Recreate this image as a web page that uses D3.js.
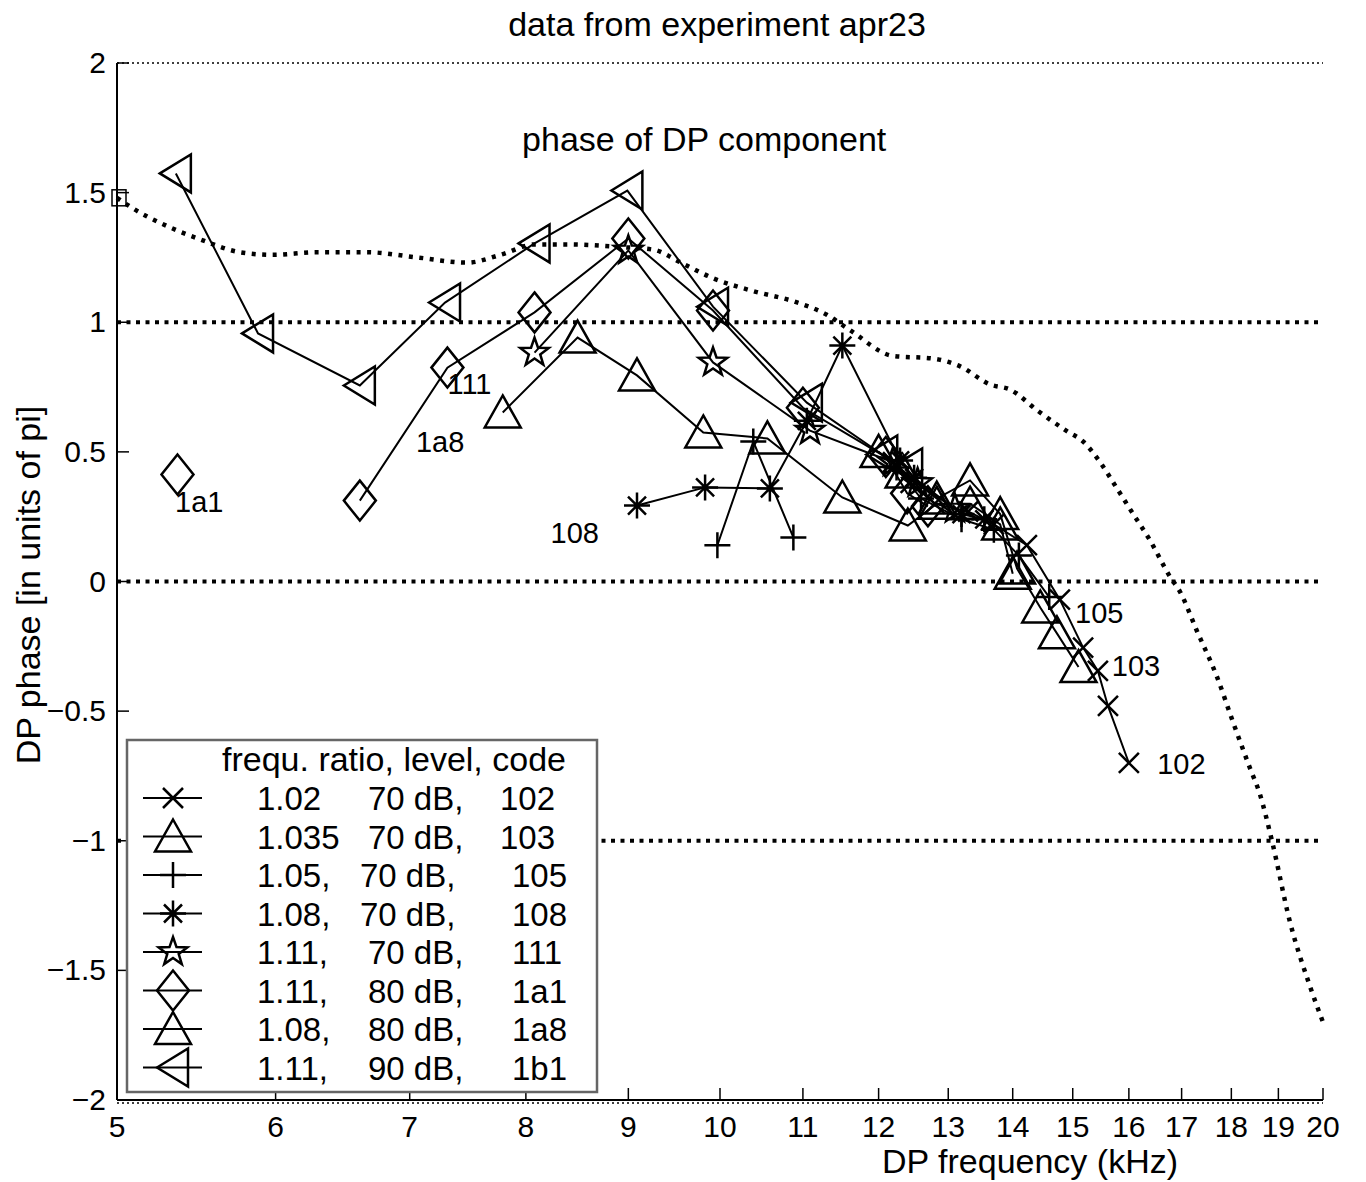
<!DOCTYPE html>
<html>
<head>
<meta charset="utf-8">
<script src="https://cdn.jsdelivr.net/npm/d3@7"></script>
<style>
    body { margin: 0; background: #fff; }
    svg { display: block; font-family: "Liberation Sans", Arial, sans-serif; }
</style>
</head>
<body>
<svg id="chart" width="1366" height="1182"></svg>
<script>
// axis ticks
const xTicks = [5, 6, 7, 8, 9, 10, 11, 12, 13, 14, 15, 16, 17, 18, 19, 20];
const yTicks = [2, 1.5, 1, 0.5, 0, -0.5, -1, -1.5, -2];
const gridLevels = [1, 0, -1];

// reference curve (dotted)
const refFreq = [5.0, 5.09, 5.30, 5.50, 5.76, 5.98, 6.29, 6.67, 7.06, 7.48, 7.77, 8.08, 8.40, 8.92, 9.26, 9.56,
    9.92, 10.39, 10.89, 11.30, 11.61, 12.20, 12.77, 13.18, 13.64, 13.96, 14.40, 14.90, 15.18, 15.48, 15.78,
    16.08, 16.39, 16.77, 16.97, 17.30, 17.71, 18.03, 18.39, 18.60, 18.86, 19.25, 19.70, 20.0];
const refPhase = [1.48, 1.44, 1.37, 1.32, 1.27, 1.26, 1.27, 1.27, 1.25, 1.23, 1.26, 1.30, 1.30, 1.29, 1.28, 1.23,
    1.17, 1.12, 1.08, 1.03, 0.97, 0.87, 0.86, 0.83, 0.76, 0.74, 0.66, 0.58, 0.54, 0.46, 0.36,
    0.26, 0.16, 0.02, -0.04, -0.19, -0.37, -0.54, -0.72, -0.82, -1.0, -1.31, -1.56, -1.70];

// measured series: DP frequency (kHz) and phase (units of pi); null = gap
const f102 = [12.2, 12.45, 12.8, 13.3, 13.7, 14.23, 14.78, 15.18, 15.44, 15.62, 16.0];
const p102 = [0.46, 0.38, 0.30, 0.27, 0.22, 0.14, -0.07, -0.255, -0.345, -0.48, -0.70];

const f103 = [12.0, 12.35, 12.83, 13.33, 13.8, 14.07, 14.45, 14.73, 15.1];
const p103 = [0.50, 0.42, 0.32, 0.39, 0.26, 0.05, -0.10, -0.20, -0.33];

const f105 = [9.97, 10.39, 10.88, 11.5, 12.25, 12.6, 13.2, 13.7, 14.1, 14.6];
const p105 = [0.14, 0.54, 0.17, null, 0.44, 0.32, 0.24, 0.20, 0.10, -0.06];

const f108 = [9.09, 9.83, 10.59, 11.05, 11.51, 12.3, 12.5, 13.2, 13.55];
const p108 = [0.293, 0.363, 0.359, 0.62, 0.91, 0.467, 0.40, 0.26, 0.24];

const f111 = [8.08, 9.0, 9.92, 11.09, 12.2, 12.55, 13.1];
const p111 = [0.883, 1.277, 0.845, 0.582, 0.46, 0.38, 0.28];

const f1a1 = [5.36, 6.0, 6.61, 7.31, 8.08, 9.0, 9.92, 11.0, 12.1, 12.4, 12.7];
const p1a1 = [0.413, null, 0.312, 0.825, 1.038, 1.323, 1.045, 0.67, 0.48, 0.34, 0.29];

const f1a8 = [7.79, 8.49, 9.09, 9.81, 10.56, 11.51, 12.41, 12.83, 13.33, 13.8, 14.0];
const p1a8 = [0.652, 0.941, 0.795, 0.575, 0.552, 0.324, 0.216, 0.30, 0.30, 0.22, 0.03];

const f1b1 = [5.35, 5.88, 6.61, 7.29, 8.08, 8.99, 9.92, 11.05, 12.05, 12.4];
const p1b1 = [1.574, 0.957, 0.756, 1.076, 1.304, 1.508, 1.06, 0.69, 0.49, 0.44];

// legend rows
const legendCodes = ['102', '103', '105', '108', '111', '1a1', '1a8', '1b1'];
const legendRatio = ['1.02', '1.035', '1.05,', '1.08,', '1.11,', '1.11,', '1.08,', '1.11,'];
const legendLevel = ['70 dB,', '70 dB,', '70 dB,', '70 dB,', '70 dB,', '80 dB,', '80 dB,', '90 dB,'];

// text annotations placed in data coordinates
const noteText = ['1a1', '111', '1a8', '108', '105', '103', '102'];
const noteFreq = [5.345, 7.31, 7.05, 8.23, 15.04, 15.69, 16.53];
const notePhase = [0.27, 0.725, 0.498, 0.150, -0.162, -0.366, -0.741];

const series = [
    { code: '102', f: f102, p: p102, marker: 'x' },
    { code: '103', f: f103, p: p103, marker: 'tri' },
    { code: '105', f: f105, p: p105, marker: 'plus' },
    { code: '108', f: f108, p: p108, marker: 'asterisk' },
    { code: '111', f: f111, p: p111, marker: 'star' },
    { code: '1a1', f: f1a1, p: p1a1, marker: 'diamond' },
    { code: '1a8', f: f1a8, p: p1a8, marker: 'tri' },
    { code: '1b1', f: f1b1, p: p1b1, marker: 'ltri' }
];

const plotLeft = 117, plotRight = 1323, plotTop = 63, plotBottom = 1100;

const svg = d3.select('#chart');
const x = d3.scaleLog().domain([5, 20]).range([plotLeft, plotRight]);
const y = d3.scaleLinear().domain([-2, 2]).range([plotBottom, plotTop]);

function starPath(ro, ri) {
    const pts = [];
    for (let i = 0; i < 10; i++) {
        const r = i % 2 === 0 ? ro : ri;
        const a = -Math.PI / 2 + i * Math.PI / 5;
        pts.push([r * Math.cos(a), r * Math.sin(a)]);
    }
    return 'M' + pts.map(p => p[0].toFixed(1) + ',' + p[1].toFixed(1)).join('L') + 'Z';
}

const markerPaths = {
    x: 'M-10,-10L10,10M-10,10L10,-10',
    tri: 'M0,-17L18,15L-18,15Z',
    plus: 'M-13,0L13,0M0,-13L0,13',
    asterisk: 'M-13,0L13,0M0,-13L0,13M-9,-9L9,9M-9,9L9,-9',
    star: starPath(15, 6),
    diamond: 'M0,-20L16,0L0,20L-16,0Z',
    ltri: 'M-16,0L15,-19L15,19Z'
};

// axes
svg.append('line')
    .attr('x1', plotLeft).attr('x2', plotLeft).attr('y1', plotTop).attr('y2', plotBottom)
    .attr('stroke', '#000').attr('stroke-width', 2);
svg.append('line')
    .attr('x1', plotLeft).attr('x2', plotRight).attr('y1', plotBottom).attr('y2', plotBottom)
    .attr('stroke', '#000').attr('stroke-width', 2);

// thin dotted frame lines at +2 / -2
[2, -2].forEach(v => {
    const yy = y(v) + (v < 0 ? 3 : 0);
    svg.append('line')
        .attr('x1', plotLeft).attr('x2', plotRight).attr('y1', yy).attr('y2', yy)
        .attr('stroke', '#000').attr('stroke-width', 1.5).attr('stroke-dasharray', '2 3');
});

// heavy dotted levels
svg.selectAll('.level')
    .data(gridLevels)
    .enter()
    .append('line')
    .attr('class', 'level')
    .attr('x1', plotLeft).attr('x2', plotRight)
    .attr('y1', d => y(d)).attr('y2', d => y(d))
    .attr('stroke', '#000').attr('stroke-width', 4).attr('stroke-dasharray', '4 5.5');

// ticks
svg.selectAll('.ytick')
    .data(yTicks)
    .enter()
    .append('line')
    .attr('x1', plotLeft).attr('x2', plotLeft + 12)
    .attr('y1', d => y(d)).attr('y2', d => y(d))
    .attr('stroke', '#000').attr('stroke-width', 1.5);
svg.selectAll('.ylab')
    .data(yTicks)
    .enter()
    .append('text')
    .attr('x', 106)
    .attr('y', d => y(d) + 10)
    .attr('text-anchor', 'end')
    .attr('font-size', 30)
    .text(d => d < 0 ? '\u2212' + Math.abs(d) : d);

svg.selectAll('.xtick')
    .data(xTicks)
    .enter()
    .append('line')
    .attr('x1', d => x(d)).attr('x2', d => x(d))
    .attr('y1', plotBottom).attr('y2', plotBottom - 12)
    .attr('stroke', '#000').attr('stroke-width', 1.5);
svg.selectAll('.xlab')
    .data(xTicks)
    .enter()
    .append('text')
    .attr('x', d => x(d))
    .attr('y', 1137)
    .attr('text-anchor', 'middle')
    .attr('font-size', 30)
    .text(d => d);

// titles
svg.append('text').attr('x', 717).attr('y', 36).attr('text-anchor', 'middle')
    .attr('font-size', 34).text('data from experiment apr23');
svg.append('text').attr('x', 1030).attr('y', 1173).attr('text-anchor', 'middle')
    .attr('font-size', 34).text('DP frequency (kHz)');
svg.append('text').attr('transform', 'translate(40,585) rotate(-90)').attr('text-anchor', 'middle')
    .attr('font-size', 34).text('DP phase [in units of pi]');
svg.append('text').attr('x', x(9.82)).attr('y', y(1.659)).attr('text-anchor', 'middle')
    .attr('font-size', 34).text('phase of DP component');

// reference curve
const refPts = refFreq.map((f, i) => [f, refPhase[i]]);
svg.append('path')
    .attr('d', d3.line().x(d => x(d[0])).y(d => y(d[1])).curve(d3.curveMonotoneX)(refPts))
    .attr('fill', 'none').attr('stroke', '#000')
    .attr('stroke-width', 4.5).attr('stroke-dasharray', '4 6.5');
svg.append('rect')
    .attr('x', x(refFreq[0]) - 5).attr('y', y(refPhase[0]) - 8)
    .attr('width', 14).attr('height', 16)
    .attr('fill', 'none').attr('stroke', '#000').attr('stroke-width', 1.5);

// series lines and markers
const line = d3.line()
    .defined(d => d[1] !== null)
    .x(d => x(d[0]))
    .y(d => y(d[1]));

series.forEach(s => {
    const pts = s.f.map((f, i) => [f, s.p[i]]);
    svg.append('path')
        .attr('d', line(pts))
        .attr('fill', 'none').attr('stroke', '#000').attr('stroke-width', 2);
    svg.append('g')
        .selectAll('path')
        .data(pts.filter(d => d[1] !== null))
        .enter()
        .append('path')
        .attr('d', markerPaths[s.marker])
        .attr('transform', d => `translate(${x(d[0])},${y(d[1])})`)
        .attr('fill', 'none').attr('stroke', '#000').attr('stroke-width', 2.5);
});

// annotations
svg.selectAll('.note')
    .data(noteText)
    .enter()
    .append('text')
    .attr('x', (d, i) => x(noteFreq[i]))
    .attr('y', (d, i) => y(notePhase[i]))
    .attr('font-size', 29)
    .text(d => d);

// legend
const lg = svg.append('g');
lg.append('rect')
    .attr('x', 127).attr('y', 740).attr('width', 470).attr('height', 352)
    .attr('fill', '#fff').attr('stroke', '#666').attr('stroke-width', 2.5);
lg.append('text').attr('x', 222).attr('y', 771).attr('font-size', 34)
    .text('frequ. ratio, level, code');

legendCodes.forEach((code, i) => {
    const cy = 798 + i * 38.5;
    const s = series.find(d => d.code === code);
    lg.append('line').attr('x1', 143).attr('x2', 202).attr('y1', cy).attr('y2', cy)
        .attr('stroke', '#000').attr('stroke-width', 2);
    lg.append('path').attr('d', markerPaths[s.marker])
        .attr('transform', `translate(173,${cy})`)
        .attr('fill', 'none').attr('stroke', '#000').attr('stroke-width', 2.5);
    const levelX = (i === 2 || i === 3) ? 360 : 368;
    const codeX = i < 2 ? 500 : 512;
    lg.append('text').attr('x', 257).attr('y', cy + 12).attr('font-size', 33).text(legendRatio[i]);
    lg.append('text').attr('x', levelX).attr('y', cy + 12).attr('font-size', 33).text(legendLevel[i]);
    lg.append('text').attr('x', codeX).attr('y', cy + 12).attr('font-size', 33).text(code);
});
</script>
</body>
</html>
